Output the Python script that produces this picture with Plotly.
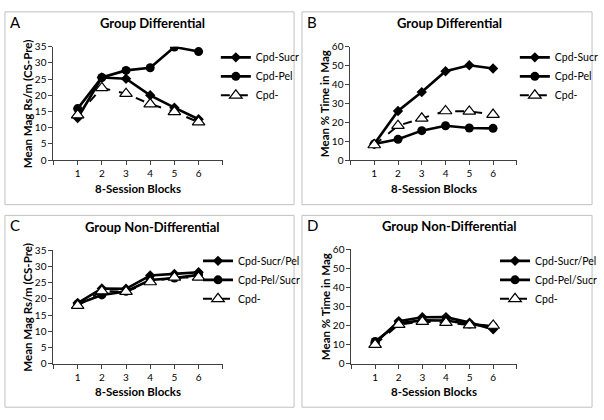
import plotly.graph_objects as go

W, H = 604, 420
FONT = "Lato"

blocks = [1, 2, 3, 4, 5, 6]
tick_vals = [0, 1, 2, 3, 4, 5, 6, 7]
tick_text = ["", "1", "2", "3", "4", "5", "6", ""]

# Panel A: Group Differential, Mean Mag Rs/m (CS-Pre)
a_sucr = [13.0, 25.5, 25.1, 20.0, 16.2, 12.6]
a_pel = [15.9, 25.5, 27.7, 28.5, 34.9, 33.5]
a_cpd = [13.9, 22.3, 20.5, 17.3, 14.9, 11.7]

# Panel B: Group Differential, Mean % Time in Mag
b_sucr = [8.5, 26.0, 36.0, 47.0, 50.2, 48.5]
b_pel = [8.5, 11.0, 15.6, 18.2, 17.0, 16.8]
b_cpd = [8.0, 18.2, 22.1, 26.0, 25.8, 24.1]

# Panel C: Group Non-Differential, Mean Mag Rs/m (CS-Pre)
c_sucrpel = [18.7, 23.2, 23.1, 27.2, 27.7, 28.2]
c_pelsucr = [18.4, 21.2, 22.3, 25.8, 26.4, 27.4]
c_cpd = [17.9, 22.4, 22.2, 25.2, 26.6, 26.6]

# Panel D: Group Non-Differential, Mean % Time in Mag
d_sucrpel = [10.8, 22.3, 24.3, 24.4, 21.5, 18.0]
d_pelsucr = [11.6, 21.2, 22.7, 22.6, 20.8, 19.6]
d_cpd = [10.0, 20.5, 22.0, 21.5, 20.2, 20.0]

panels = [
    dict(key="", letter="A", title="Group Differential", ytitle="Mean Mag Rs/m (CS-Pre)",
         ymax=35, dtick=5, names=["Cpd-Sucr", "Cpd-Pel", "Cpd-"],
         data=[a_sucr, a_pel, a_cpd],
         box=(5, 5, 297, 204), plot=(54, 225, 41, 158), leg=(218, 37)),
    dict(key="2", letter="B", title="Group Differential", ytitle="Mean % Time in Mag",
         ymax=60, dtick=10, names=["Cpd-Sucr", "Cpd-Pel", "Cpd-"],
         data=[b_sucr, b_pel, b_cpd],
         box=(305, 5, 598, 204), plot=(354, 522, 41, 158), leg=(520, 37)),
    dict(key="3", letter="C", title="Group Non-Differential", ytitle="Mean Mag Rs/m (CS-Pre)",
         ymax=35, dtick=5, names=["Cpd-Sucr/Pel", "Cpd-Pel/Sucr", "Cpd-"],
         data=[c_sucrpel, c_pelsucr, c_cpd],
         box=(5, 215, 297, 413), plot=(54, 225, 251, 368), leg=(200, 247)),
    dict(key="4", letter="D", title="Group Non-Differential", ytitle="Mean % Time in Mag",
         ymax=60, dtick=10, names=["Cpd-Sucr/Pel", "Cpd-Pel/Sucr", "Cpd-"],
         data=[d_sucrpel, d_pelsucr, d_cpd],
         box=(305, 215, 598, 413), plot=(355, 522, 250, 368), leg=(500, 247)),
]

styles = [
    dict(line=dict(color="black", width=2.6), marker=dict(symbol="diamond", size=8, color="black")),
    dict(line=dict(color="black", width=2.6), marker=dict(symbol="circle", size=9, color="black")),
    dict(line=dict(color="black", width=2, dash="dash"),
         marker=dict(symbol="triangle-up", size=11, color="white", line=dict(color="black", width=1.2))),
]

fig = go.Figure()
annotations = []
shapes = []
layout = {}

def px_x(v):
    return v / W

def px_y(v):
    return 1 - v / H

for p in panels:
    k = p["key"]
    legname = "legend" + k
    for name, vals, st in zip(p["names"], p["data"], styles):
        fig.add_trace(go.Scatter(
            x=blocks, y=vals, name=name, mode="lines+markers",
            line=st["line"], marker=st["marker"],
            xaxis="x" + k, yaxis="y" + k, legend=legname,
        ))
    x0, x1, y0, y1 = p["plot"]
    layout["xaxis" + k] = dict(
        domain=[px_x(x0), px_x(x1)], range=[0, 7], anchor="y" + k,
        tickmode="array", tickvals=tick_vals, ticktext=tick_text,
        ticks="outside", ticklen=4, tickcolor="#404040", showgrid=False, zeroline=False,
        showline=True, linecolor="#404040", linewidth=1,
        tickfont=dict(family=FONT, size=10, color="black"),
    )
    layout["yaxis" + k] = dict(
        domain=[px_y(y1), px_y(y0)], range=[0, p["ymax"]], anchor="x" + k,
        dtick=p["dtick"], tick0=0, ticks="outside", ticklen=4, tickcolor="#404040",
        showgrid=False, zeroline=False, showline=True, linecolor="#404040", linewidth=1,
        tickfont=dict(family=FONT, size=10, color="black"),
    )
    lx, ly = p["leg"]
    layout[legname] = dict(
        x=px_x(lx), y=px_y(ly), xanchor="left", yanchor="top",
        bgcolor="rgba(0,0,0,0)", font=dict(family=FONT, size=10.5, color="black"),
        itemwidth=30, tracegroupgap=0,
    )
    bx0, by0, bx1, by1 = p["box"]
    shapes.append(dict(type="rect", xref="paper", yref="paper",
                       x0=px_x(bx0), x1=px_x(bx1), y0=px_y(by1), y1=px_y(by0),
                       line=dict(color="#c0c0c0", width=1)))
    annotations.append(dict(text=p["letter"], x=px_x(bx0 + 3), y=px_y(by0 - 1),
                            xref="paper", yref="paper", xanchor="left", yanchor="top",
                            showarrow=False, font=dict(family=FONT, size=15, color="black")))
    annotations.append(dict(text="<b>" + p["title"] + "</b>", x=px_x((bx0 + bx1) / 2 + 3),
                            y=px_y(y0 - 24), xref="paper", yref="paper",
                            xanchor="center", yanchor="middle", showarrow=False,
                            font=dict(family=FONT, size=13, color="black")))
    annotations.append(dict(text="<b>" + p["ytitle"] + "</b>", x=px_x(x0 - 26),
                            y=px_y((y0 + y1) / 2), xref="paper", yref="paper",
                            xanchor="center", yanchor="middle", textangle=-90, showarrow=False,
                            font=dict(family=FONT, size=11.5, color="black")))
    annotations.append(dict(text="<b>8-Session Blocks</b>", x=px_x((x0 + x1) / 2),
                            y=px_y(y1 + 29), xref="paper", yref="paper",
                            xanchor="center", yanchor="middle", showarrow=False,
                            font=dict(family=FONT, size=11.5, color="black")))

fig.update_layout(
    width=W, height=H, margin=dict(l=0, r=0, t=0, b=0),
    paper_bgcolor="white", plot_bgcolor="white",
    annotations=annotations, shapes=shapes, showlegend=True,
    **layout,
)

fig.write_html("out.html", config={"displayModeBar": False},
               post_script="document.body.style.margin='0';")
